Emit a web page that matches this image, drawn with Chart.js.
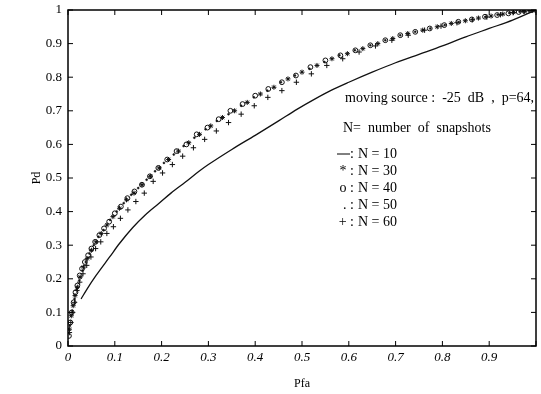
<!DOCTYPE html>
<html>
<head>
<meta charset="utf-8">
<script src="https://cdn.jsdelivr.net/npm/chart.js@4.4.0/dist/chart.umd.min.js"></script>
<style>
  html, body { margin: 0; padding: 0; background: #fff; }
</style>
</head>
<body>
<canvas id="rocChart" width="541" height="394"></canvas>
<script>
// ROC curves, moving source -25 dB, p=64
const xTicks = [0, 0.1, 0.2, 0.3, 0.4, 0.5, 0.6, 0.7, 0.8, 0.9, 1];
const yTicks = [0, 0.1, 0.2, 0.3, 0.4, 0.5, 0.6, 0.7, 0.8, 0.9, 1];

// N = 10 (solid line)
const pfaN10 = [0.028, 0.04, 0.06, 0.089, 0.11, 0.138, 0.165, 0.194, 0.22, 0.251, 0.28, 0.3, 0.35, 0.4, 0.45, 0.49, 0.53, 0.561, 0.6, 0.65, 0.7, 0.75, 0.8, 0.85, 0.9, 0.95, 1];
const pdN10  = [0.14, 0.168, 0.21, 0.265, 0.305, 0.352, 0.39, 0.424, 0.455, 0.488, 0.52, 0.54, 0.585, 0.627, 0.67, 0.705, 0.737, 0.76, 0.785, 0.815, 0.843, 0.868, 0.893, 0.92, 0.945, 0.97, 1];

// N = 30 (*)
const pfaN30 = [0.003, 0.007, 0.011, 0.015, 0.02, 0.026, 0.033, 0.041, 0.05, 0.06, 0.071, 0.083, 0.096, 0.11, 0.125, 0.141, 0.158, 0.176, 0.195, 0.215, 0.236, 0.258, 0.281, 0.305, 0.33, 0.356, 0.383, 0.411, 0.44, 0.47, 0.5, 0.532, 0.564, 0.597, 0.63, 0.662, 0.694, 0.726, 0.758, 0.789, 0.819, 0.849, 0.877, 0.904, 0.929, 0.952, 0.973, 0.99];
const pdN30  = [0.05, 0.09, 0.12, 0.15, 0.175, 0.205, 0.235, 0.26, 0.285, 0.31, 0.335, 0.36, 0.385, 0.41, 0.435, 0.455, 0.48, 0.505, 0.53, 0.555, 0.58, 0.605, 0.63, 0.655, 0.68, 0.7, 0.725, 0.75, 0.77, 0.795, 0.815, 0.835, 0.855, 0.87, 0.885, 0.9, 0.915, 0.93, 0.94, 0.95, 0.96, 0.968, 0.976, 0.982, 0.988, 0.993, 0.996, 0.999];

// N = 40 (o)
const pfaN40 = [0.002, 0.005, 0.008, 0.012, 0.016, 0.02, 0.025, 0.03, 0.036, 0.043, 0.05, 0.058, 0.067, 0.077, 0.088, 0.1, 0.113, 0.127, 0.142, 0.158, 0.175, 0.193, 0.212, 0.232, 0.253, 0.275, 0.298, 0.322, 0.347, 0.373, 0.4, 0.428, 0.457, 0.487, 0.518, 0.55, 0.582, 0.614, 0.646, 0.678, 0.71, 0.742, 0.773, 0.804, 0.834, 0.863, 0.891, 0.917, 0.941, 0.963, 0.982, 1];
const pdN40  = [0.03, 0.07, 0.1, 0.13, 0.16, 0.18, 0.21, 0.23, 0.25, 0.27, 0.29, 0.31, 0.33, 0.35, 0.37, 0.395, 0.415, 0.44, 0.46, 0.48, 0.505, 0.53, 0.555, 0.58, 0.6, 0.63, 0.65, 0.675, 0.7, 0.72, 0.745, 0.765, 0.785, 0.805, 0.83, 0.85, 0.865, 0.88, 0.895, 0.91, 0.925, 0.935, 0.945, 0.955, 0.965, 0.972, 0.98, 0.985, 0.99, 0.994, 0.997, 1];

// N = 50 (.)
const pfaN50 = [0.004, 0.009, 0.014, 0.019, 0.024, 0.031, 0.038, 0.046, 0.055, 0.065, 0.076, 0.09, 0.104, 0.119, 0.135, 0.15, 0.168, 0.186, 0.205, 0.226, 0.247, 0.27, 0.294, 0.318, 0.343, 0.37, 0.397, 0.426, 0.455, 0.485, 0.516, 0.548, 0.58, 0.613, 0.646, 0.678, 0.71, 0.742, 0.774, 0.805, 0.835, 0.864, 0.892, 0.918, 0.943, 0.965, 0.984];
const pdN50  = [0.06, 0.105, 0.14, 0.17, 0.195, 0.225, 0.25, 0.275, 0.3, 0.325, 0.345, 0.375, 0.4, 0.425, 0.45, 0.47, 0.495, 0.52, 0.545, 0.57, 0.595, 0.62, 0.645, 0.67, 0.69, 0.715, 0.74, 0.76, 0.785, 0.805, 0.825, 0.845, 0.865, 0.88, 0.895, 0.91, 0.925, 0.935, 0.945, 0.955, 0.964, 0.972, 0.98, 0.986, 0.991, 0.995, 0.998];

// N = 60 (+)
const pfaN60 = [0.003, 0.006, 0.01, 0.014, 0.019, 0.025, 0.032, 0.04, 0.049, 0.059, 0.07, 0.083, 0.097, 0.112, 0.128, 0.145, 0.163, 0.182, 0.202, 0.223, 0.245, 0.268, 0.292, 0.317, 0.343, 0.37, 0.398, 0.427, 0.457, 0.488, 0.52, 0.553, 0.587, 0.622, 0.657, 0.692, 0.727, 0.762, 0.797, 0.831, 0.864, 0.895, 0.924, 0.951, 0.975, 0.993];
const pdN60  = [0.04, 0.07, 0.1, 0.13, 0.165, 0.19, 0.215, 0.24, 0.265, 0.29, 0.31, 0.335, 0.355, 0.38, 0.405, 0.43, 0.455, 0.49, 0.515, 0.54, 0.565, 0.59, 0.615, 0.64, 0.665, 0.69, 0.715, 0.74, 0.76, 0.785, 0.81, 0.835, 0.855, 0.875, 0.893, 0.91, 0.925, 0.94, 0.952, 0.962, 0.971, 0.979, 0.986, 0.992, 0.996, 0.999];

const noteLines = ['moving source :  -25  dB  ,  p=64,', 'N=  number  of  snapshots'];
const legendSymbols = ['—', '*', 'o', '.', '+'];
const legendLabels = ['N = 10', 'N = 30', 'N = 40', 'N = 50', 'N = 60'];

function toPoints(xs, ys) {
    return xs.map((x, i) => ({ x: x, y: ys[i] }));
}

const serif = '"Liberation Serif", "DejaVu Serif", serif';

// frame, inward ticks and the text block
const framePlugin = {
    id: 'frame',
    afterDraw(chart) {
        const ctx = chart.ctx;
        const a = chart.chartArea;
        const sx = chart.scales.x;
        const sy = chart.scales.y;
        ctx.save();
        ctx.strokeStyle = '#000';
        ctx.lineWidth = 1.5;
        ctx.strokeRect(a.left, a.top, a.right - a.left, a.bottom - a.top);
        ctx.lineWidth = 1;
        ctx.beginPath();
        xTicks.forEach(v => {
            const px = sx.getPixelForValue(v);
            ctx.moveTo(px, a.bottom); ctx.lineTo(px, a.bottom - 5);
            ctx.moveTo(px, a.top); ctx.lineTo(px, a.top + 5);
        });
        yTicks.forEach(v => {
            const py = sy.getPixelForValue(v);
            ctx.moveTo(a.left, py); ctx.lineTo(a.left + 5, py);
            ctx.moveTo(a.right, py); ctx.lineTo(a.right - 5, py);
        });
        ctx.stroke();

        ctx.fillStyle = '#000';
        ctx.textBaseline = 'middle';
        ctx.textAlign = 'left';
        ctx.font = '14px ' + serif;
        ctx.fillText(noteLines[0], 345, 98);
        ctx.fillText(noteLines[1], 343, 128);

        const rowY = [154, 171, 188, 205, 222];
        legendSymbols.forEach((s, i) => {
            ctx.textAlign = 'right';
            if (s === '—') {
                ctx.beginPath();
                ctx.moveTo(337, rowY[i]); ctx.lineTo(350, rowY[i]);
                ctx.stroke();
                ctx.fillText(':', 354, rowY[i]);
            } else {
                ctx.fillText(s + ' :', 354, rowY[i]);
            }
            ctx.textAlign = 'left';
            ctx.fillText(legendLabels[i], 358, rowY[i]);
        });
        ctx.restore();
    }
};

new Chart(document.getElementById('rocChart').getContext('2d'), {
    type: 'scatter',
    data: {
        datasets: [
            {
                label: 'N = 10',
                data: toPoints(pfaN10, pdN10),
                showLine: true,
                borderColor: '#111',
                borderWidth: 1.3,
                pointRadius: 0,
                cubicInterpolationMode: 'monotone'
            },
            {
                label: 'N = 30',
                data: toPoints(pfaN30, pdN30),
                pointStyle: 'star',
                pointRadius: 2.5,
                borderColor: '#111',
                borderWidth: 1
            },
            {
                label: 'N = 40',
                data: toPoints(pfaN40, pdN40),
                pointStyle: 'circle',
                pointRadius: 2.4,
                borderColor: '#111',
                backgroundColor: 'rgba(255,255,255,0)',
                borderWidth: 1
            },
            {
                label: 'N = 50',
                data: toPoints(pfaN50, pdN50),
                pointStyle: 'circle',
                pointRadius: 1,
                borderColor: '#111',
                backgroundColor: '#111',
                borderWidth: 0.5
            },
            {
                label: 'N = 60',
                data: toPoints(pfaN60, pdN60),
                pointStyle: 'cross',
                pointRadius: 2.7,
                borderColor: '#111',
                borderWidth: 1
            }
        ]
    },
    options: {
        responsive: false,
        animation: false,
        devicePixelRatio: 1,
        layout: { padding: { top: 10, right: 1, left: 0, bottom: 0 } },
        plugins: {
            legend: { display: false },
            tooltip: { enabled: false }
        },
        scales: {
            x: {
                type: 'linear',
                min: 0,
                max: 1,
                grid: { display: false, drawTicks: false },
                border: { display: false },
                afterFit: scale => {
                    scale.height = 48;
                    scale.paddingLeft = 0;
                    scale.paddingRight = 0;
                },
                afterBuildTicks: scale => { scale.ticks = xTicks.map(v => ({ value: v })); },
                ticks: {
                    color: '#000',
                    padding: 4,
                    maxRotation: 0,
                    font: { family: serif, size: 13, style: 'italic' },
                    callback: v => (v === 1 ? '' : (v === 0 ? '0' : v.toFixed(1)))
                },
                title: {
                    display: true,
                    text: 'Pfa',
                    color: '#000',
                    font: { family: serif, size: 12 },
                    padding: { top: 0, bottom: 3 }
                }
            },
            y: {
                type: 'linear',
                min: 0,
                max: 1,
                grid: { display: false, drawTicks: false },
                border: { display: false },
                afterFit: scale => {
                    scale.width = 68;
                    scale.paddingTop = 0;
                    scale.paddingBottom = 0;
                },
                afterBuildTicks: scale => { scale.ticks = yTicks.map(v => ({ value: v })); },
                ticks: {
                    color: '#000',
                    padding: 6,
                    font: { family: serif, size: 13 },
                    callback: v => (v === 0 || v === 1 ? String(v) : v.toFixed(1))
                },
                title: {
                    display: true,
                    text: 'Pd',
                    color: '#000',
                    font: { family: serif, size: 12 },
                    padding: { top: 30, bottom: 0 }
                }
            }
        }
    },
    plugins: [framePlugin]
});
</script>
</body>
</html>
